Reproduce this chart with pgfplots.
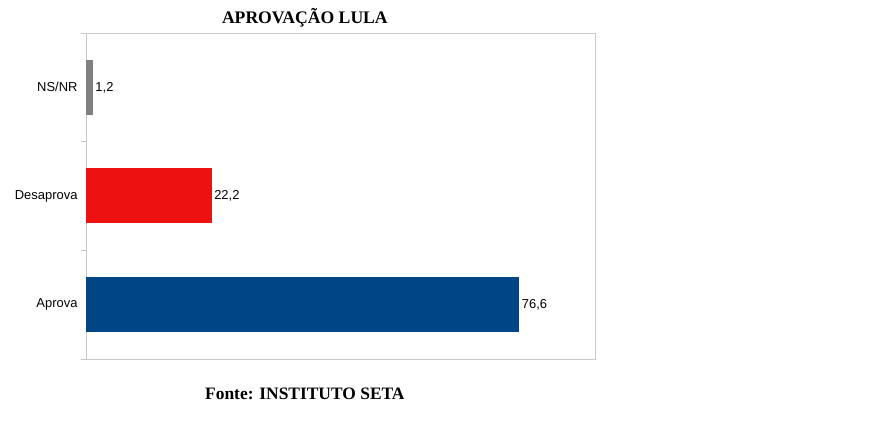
\documentclass[border=0pt]{standalone}
\usepackage{pgfplots}
\pgfplotsset{compat=1.18}
\usepackage{fontspec}
\setmainfont{Liberation Sans}
\newfontfamily\serifbf{Liberation Serif}
\definecolor{barblue}{HTML}{004586}
\definecolor{barred}{HTML}{EE1111}
\definecolor{bargray}{HTML}{808080}
\definecolor{framegray}{HTML}{C8C8C8}
\begin{document}
\begin{tikzpicture}[x=1bp,y=1bp]
\useasboundingbox (0,0) rectangle (892,439);
\begin{axis}[
    at={(86bp,80bp)}, anchor=south west,
    scale only axis,
    width=509bp, height=326bp,
    xbar, bar width=55bp, bar shift=0pt,
    xmin=0, xmax=90,
    ymin=-0.5, ymax=2.5,
    axis line style={framegray, line width=0.9pt},
    xtick=\empty,
    ytick={0,1,2},
    ytick pos=left,
    yticklabels={Aprova,Desaprova,NS/NR},
    major tick length=0pt,
    minor ytick={-0.5,0.5,1.5,2.5},
    minor tick length=5bp,
    tick align=outside,
    tick style={framegray, line width=0.9pt},
    yticklabel style={font=\fontsize{13}{15}\selectfont, xshift=-5bp},
    nodes near coords={\pgfmathprintnumber[fixed, fixed zerofill, precision=1, use comma, assume math mode=true]{\pgfplotspointmeta}},
    nodes near coords align={horizontal},
    nodes near coords style={font=\fontsize{13}{15}\selectfont, black, inner sep=2.5bp},
    point meta=explicit,
    title={APROVAÇÃO LULA},
    title style={font=\serifbf\bfseries\fontsize{17.7}{20}\selectfont, at={(axis description cs:0.43,1)}, anchor=center, yshift=9bp},
    xlabel={Fonte: INSTITUTO SETA},
    xlabel style={font=\serifbf\bfseries\fontsize{17.5}{20}\selectfont, at={(axis description cs:0.43,0)}, anchor=center, yshift=-35bp},
  ]
\addplot[fill=barblue, draw=none] coordinates {(76.6,0) [76.6]};
\addplot[fill=barred, draw=none] coordinates {(22.2,1) [22.2]};
\addplot[fill=bargray, draw=none] coordinates {(1.2,2) [1.2]};
\end{axis}
\end{tikzpicture}
\end{document}
